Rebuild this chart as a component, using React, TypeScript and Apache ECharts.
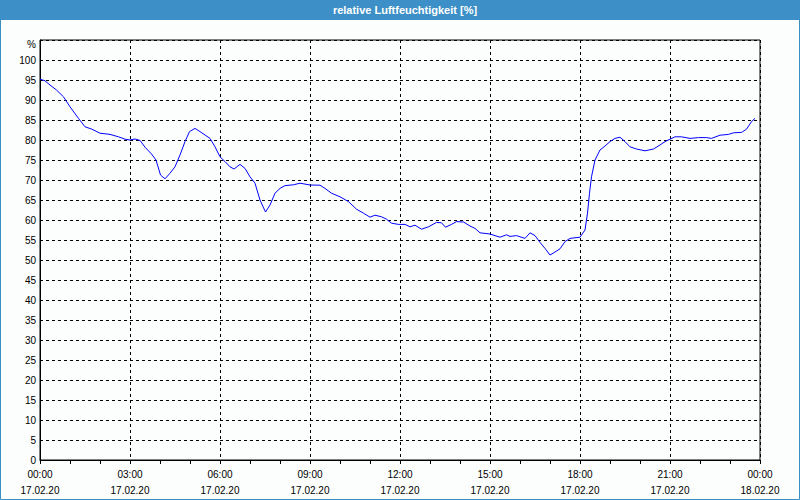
import React, { useEffect, useRef } from "react";
import * as echarts from "echarts";

// time in minutes after 17.02.20 00:00
const minutes = [
  0, 10, 20, 33, 47, 60, 77, 90, 103, 120, 140, 157, 170, 180, 190, 200, 210, 223, 232, 241,
  250, 260, 270, 280, 290, 299, 310, 320, 330, 340, 350, 360, 370, 380, 388, 400, 410, 420, 430, 440,
  451, 460, 470, 480, 490, 507, 520, 540, 560, 570, 583, 600, 617, 633, 647, 660, 670, 683, 693, 703,
  717, 730, 740, 750, 763, 777, 793, 803, 811, 823, 833, 847, 860, 870, 880, 900, 920, 933, 940, 953,
  970, 980, 990, 1000, 1010, 1020, 1030, 1040, 1050, 1060, 1080, 1090, 1095, 1099, 1103, 1110, 1120, 1130, 1140, 1150,
  1160, 1170, 1180, 1193, 1210, 1227, 1240, 1250, 1260, 1270, 1283, 1300, 1317, 1333, 1343, 1360, 1377, 1387, 1403, 1413,
  1423, 1430,
];

const humidity = [
  95.2, 94.8, 93.75, 92.5, 90.8, 88.3, 85.4, 83.3, 82.75, 81.7, 81.4, 80.8, 80.2, 80.0, 80.25, 79.9, 78.2, 76.5, 75.0, 71.25,
  70.3, 71.7, 73.3, 76.25, 79.6, 82.1, 82.9, 82.1, 81.25, 80.4, 78.3, 75.8, 74.6, 73.3, 72.75, 73.9, 72.9, 70.8, 69.2, 65.0,
  62.0, 63.75, 66.7, 67.9, 68.6, 68.8, 69.2, 68.75, 68.7, 67.9, 66.7, 65.8, 64.6, 62.7, 61.7, 60.7, 61.2, 60.8, 60.2, 59.2,
  58.9, 58.9, 58.3, 58.7, 57.7, 58.3, 59.4, 59.3, 58.2, 58.9, 59.6, 59.5, 58.5, 57.9, 56.8, 56.5, 55.7, 56.3, 55.9, 56.1,
  55.4, 56.8, 56.1, 54.4, 52.9, 51.25, 52.0, 52.8, 54.6, 55.4, 55.7, 57.5, 61.7, 66.7, 70.8, 75.0, 77.5, 78.5, 79.6, 80.4,
  80.7, 79.6, 78.3, 77.75, 77.3, 77.75, 78.75, 79.6, 80.2, 80.8, 80.8, 80.4, 80.6, 80.6, 80.4, 81.2, 81.4, 81.8, 81.9, 82.7,
  84.6, 85.4,
];

const titleText = "relative Luftfeuchtigkeit [%]";
const yUnitLabel = "%";

export default function App() {
  const ref = useRef<HTMLDivElement>(null);

  useEffect(() => {
    document.body.style.margin = "0";
    if (!ref.current) return;
    const chart = echarts.init(ref.current, null, { renderer: "svg" });
    const font = '"Liberation Sans", Arial, sans-serif';
    const data = minutes.map((m, i) => [m, humidity[i]]);
    const pad = (n: number) => (n < 10 ? "0" + n : "" + n);

    chart.setOption({
      animation: false,
      backgroundColor: "#fbfefd",
      grid: {
        left: 40,
        right: 40,
        top: 40,
        bottom: 40,
        show: true,
        borderColor: "#000",
        borderWidth: 1,
        backgroundColor: "transparent",
      },
      graphic: [
        {
          type: "rect",
          silent: true,
          shape: { x: 0, y: 0, width: 800, height: 20 },
          style: { fill: "#3d90c7" },
        },
        {
          type: "rect",
          silent: true,
          shape: { x: 0.5, y: 0.5, width: 799, height: 499 },
          style: { fill: "none", stroke: "#3d90c7", lineWidth: 1 },
        },
        {
          type: "text",
          silent: true,
          x: 405,
          y: 10,
          style: {
            text: titleText,
            fill: "#ffffff",
            fontSize: 11,
            fontWeight: "bold",
            fontFamily: font,
            align: "center",
            verticalAlign: "middle",
          },
        },
      ],
      xAxis: {
        type: "value",
        min: 0,
        max: 1440,
        interval: 180,
        axisLine: { show: true, lineStyle: { color: "#000", width: 1 } },
        axisTick: { show: true, length: 4, inside: false, lineStyle: { color: "#000" } },
        minorTick: { show: true, splitNumber: 3, length: 4, lineStyle: { color: "#000" } },
        splitLine: { show: true, lineStyle: { color: "#000", type: [3, 3], width: 1 } },
        axisLabel: {
          color: "#000",
          fontSize: 10,
          fontFamily: font,
          lineHeight: 16,
          margin: 6,
          formatter: (v: number) => {
            const h = Math.floor(v / 60) % 24;
            const m = Math.round(v % 60);
            const date = v >= 1440 ? "18.02.20" : "17.02.20";
            return pad(h) + ":" + pad(m) + "\n" + date;
          },
        },
      },
      yAxis: {
        type: "value",
        min: 0,
        max: 105,
        interval: 5,
        axisLine: { show: true, lineStyle: { color: "#000", width: 1 } },
        axisTick: { show: false },
        splitLine: { show: true, lineStyle: { color: "#000", type: [3, 3], width: 1 } },
        axisLabel: {
          color: "#000",
          fontSize: 10,
          fontFamily: font,
          margin: 4,
          formatter: (v: number) => (v >= 105 ? "{u|" + yUnitLabel + "}" : String(v)),
          rich: {
            u: { color: "#000", fontSize: 10, fontFamily: font, padding: [8, 0, 0, 0] },
          },
        },
      },
      series: [
        {
          type: "line",
          data,
          showSymbol: false,
          symbol: "none",
          smooth: false,
          lineStyle: { color: "#0000ff", width: 1 },
          z: 5,
        },
      ],
    });

    return () => chart.dispose();
  }, []);

  return (
    <div
      ref={ref}
      style={{ position: "absolute", left: 0, top: 0, width: 800, height: 500 }}
    />
  );
}
